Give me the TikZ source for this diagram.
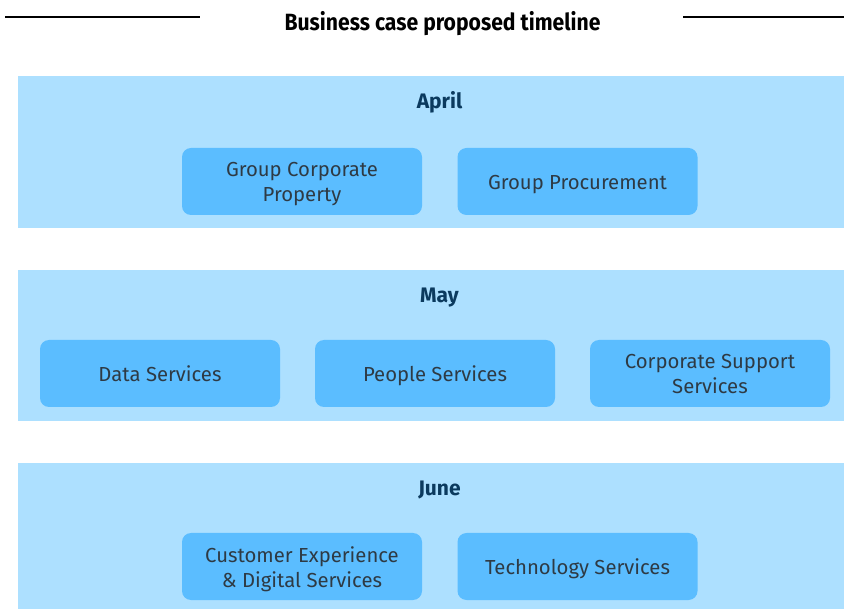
\documentclass[tikz,border=0pt]{standalone}
\usepackage{fontspec}
\setmainfont{Fira Sans}
\newfontfamily\titlefont[FakeStretch=0.9]{Fira Sans}
\definecolor{bandblue}{HTML}{ADE0FF}
\definecolor{boxblue}{HTML}{5BBDFF}
\definecolor{monthnavy}{HTML}{0B3A5E}
\definecolor{boxtext}{HTML}{2E3A44}
% one line of box text with a fixed-height strut so baselines sit evenly
\newcommand{\boxline}[1]{\rule[-4.5pt]{0pt}{25pt}#1}
\begin{document}
\begin{tikzpicture}[x=1pt,y=-1pt,
  band/.style={fill=bandblue,draw=none},
  unitbox/.style={fill=boxblue,draw=none,rounded corners=9pt,minimum width=240pt,minimum height=67pt,
    align=center,text=boxtext,font=\fontsize{20.3}{25}\selectfont,inner sep=0pt},
  month/.style={text=monthnavy,font=\bfseries\fontsize{21}{24}\selectfont,anchor=base},
  rule/.style={draw=black,line width=1.2pt}]
\useasboundingbox (0,0) rectangle (844,609);
% title with flanking rules
\node[font=\titlefont\bfseries\fontsize{23.5}{26}\selectfont,anchor=base] (title) at (442.5,31) {Business case proposed timeline};
\coordinate (l1) at (5,17); \coordinate (l2) at (200,17);
\coordinate (r1) at (683,17); \coordinate (r2) at (844,17);
\draw[rule] (l1) -- (l2);
\draw[rule] (r1) -- (r2);
% month bands
\fill[band] (18,76) rectangle (844,228);
\fill[band] (18,270) rectangle (844,421);
\fill[band] (18,463) rectangle (844,609);
\node[month] (april) at (439.5,109) {April};
\node[month] (may) at (439.5,303) {May};
\node[month] (june) at (439.5,496) {June};
% April
\node[unitbox] (gcp) at (302,181.5) {\boxline{Group Corporate}\\\boxline{Property}};
\node[unitbox] (gp) at (577.5,181.5) {\boxline{Group Procurement}};
% May
\node[unitbox] (ds) at (160,373.5) {\boxline{Data Services}};
\node[unitbox] (ps) at (435,373.5) {\boxline{People Services}};
\node[unitbox] (css) at (710,373.5) {\boxline{Corporate Support}\\\boxline{Services}};
% June
\node[unitbox] (cx) at (302,566.5) {\boxline{Customer Experience}\\\boxline{\& Digital Services}};
\node[unitbox] (ts) at (577.5,566.5) {\boxline{Technology Services}};
\end{tikzpicture}
\end{document}
